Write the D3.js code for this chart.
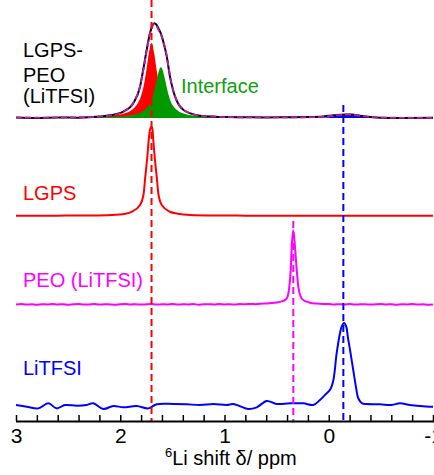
<!DOCTYPE html>
<html>
<head>
<meta charset="utf-8">
<script src="https://cdn.jsdelivr.net/npm/d3@7"></script>
<style>
  html, body { margin: 0; padding: 0; background: #fff; }
  svg { display: block; font-family: "Liberation Sans", Arial, sans-serif; }
</style>
</head>
<body>
<svg id="chart" width="434" height="475"></svg>
<script>
// 6Li MAS NMR spectra, chemical shift (ppm) vs. intensity (a.u.)
// Each series: [shift in ppm, intensity above its own baseline]

// Composite LGPS-PEO(LiTFSI): measured spectrum
const compositeMeasured = [
  [3.0,0.1],[2.8,0.0],[2.6,0.1],[2.4,0.05],[2.2,0.3],[2.1,0.6],[1.97,1.5],[1.875,3.5],
  [1.81,7.4],[1.78,11.4],[1.746,16.2],[1.715,20.1],[1.69,22.0],[1.673,22.5],[1.655,22.2],
  [1.635,21.3],[1.61,20.0],[1.587,18.1],[1.554,14.6],[1.523,9.8],[1.5,7.2],[1.475,5.1],
  [1.44,3.2],[1.395,1.9],[1.32,1.0],[1.235,0.5],[1.1,0.3],[1.0,0.2],[0.8,0.15],[0.6,0.1],
  [0.4,0.15],[0.2,0.2],[0.05,0.35],[-0.05,0.6],[-0.15,0.8],[-0.22,0.8],[-0.3,0.5],
  [-0.4,0.2],[-0.5,0.05],[-0.7,0.0],[-1.0,0.05]
];
// Composite: total of the fitted components
const compositeFit = [
  [3.0,0.05],[2.6,0.08],[2.2,0.3],[2.1,0.55],[1.97,1.5],[1.875,3.6],[1.81,7.5],[1.78,11.2],
  [1.746,16.0],[1.715,20.0],[1.69,21.9],[1.675,22.3],[1.655,22.0],[1.635,21.0],[1.61,19.8],
  [1.587,18.2],[1.554,14.8],[1.523,10.0],[1.5,7.3],[1.475,5.2],[1.44,3.3],[1.395,2.0],
  [1.32,1.0],[1.235,0.5],[1.1,0.3],[1.0,0.2],[0.6,0.1],[0.2,0.15],[0.05,0.3],[-0.05,0.55],
  [-0.15,0.75],[-0.22,0.75],[-0.3,0.5],[-0.4,0.2],[-0.5,0.05],[-1.0,0.0]
];
// Composite: LGPS component
const fitLGPS = [
  [3.0,0.04],[2.8,0.06],[2.6,0.09],[2.4,0.15],[2.2,0.30],[2.1,0.46],[2.0,0.80],[1.95,1.13],
  [1.9,1.70],[1.85,2.81],[1.8,5.28],[1.775,7.64],[1.75,11.2],[1.725,15.5],[1.7,17.8],
  [1.675,15.5],[1.65,11.2],[1.625,7.64],[1.6,5.28],[1.575,3.79],[1.55,2.81],[1.525,2.16],
  [1.5,1.70],[1.45,1.13],[1.4,0.80],[1.35,0.59],[1.3,0.46],[1.2,0.30],[1.1,0.21],[1.0,0.15],
  [0.8,0.09],[0.6,0.06],[0.4,0.04],[0.0,0.02],[-1.0,0.0]
];
// Composite: interface component
const fitInterface = [
  [3.0,0.03],[2.8,0.04],[2.6,0.06],[2.4,0.1],[2.2,0.18],[2.1,0.25],[2.0,0.35],[1.95,0.45],
  [1.9,0.6],[1.85,0.85],[1.8,1.3],[1.775,1.7],[1.75,2.2],[1.725,2.9],[1.7,4.2],[1.675,6.3],
  [1.65,9.0],[1.625,11.5],[1.61,12.0],[1.6,11.8],[1.575,9.6],[1.55,6.8],[1.525,4.5],
  [1.5,3.1],[1.45,1.75],[1.4,1.1],[1.35,0.75],[1.3,0.55],[1.2,0.33],[1.1,0.22],[1.0,0.16],
  [0.8,0.1],[0.6,0.06],[0.4,0.04],[0.0,0.02],[-1.0,0.0]
];
// Composite: LiTFSI component
const fitSalt = [
  [0.1,0],[0.0,0.15],[-0.1,0.55],[-0.2,0.75],[-0.3,0.5],[-0.4,0.15],[-0.5,0]
];

// Pristine LGPS
const specLGPS = [
  [3.0,0.05],[2.6,0.08],[2.3,0.12],[2.08,0.24],[1.95,0.55],[1.89,1.0],[1.81,2.6],
  [1.775,5.4],[1.76,9.3],[1.743,13.3],[1.727,18.0],[1.715,20.4],[1.7,21.2],[1.69,20.4],
  [1.683,18.0],[1.667,13.3],[1.65,9.3],[1.635,5.4],[1.602,2.6],[1.523,1.0],[1.45,0.55],
  [1.33,0.24],[1.1,0.12],[0.8,0.08],[0.4,0.05],[0.0,0.04],[-1.0,0.03]
];

// PEO(LiTFSI) membrane
const specPEO = [
  [3.0,0.0],[2.95,0.08],[2.9,-0.05],[2.85,0.03],[2.8,-0.1],[2.75,0.05],[2.7,0.0],[2.65,0.1],
  [2.6,-0.03],[2.55,0.05],[2.5,-0.08],[2.45,0.03],[2.4,0.08],[2.35,-0.05],[2.3,0.0],[2.25,0.1],
  [2.2,-0.05],[2.15,0.05],[2.1,0.0],[2.05,-0.08],[2.0,0.05],[1.95,0.1],[1.9,-0.03],[1.85,0.05],
  [1.8,-0.05],[1.75,0.03],[1.7,0.08],[1.65,-0.05],[1.6,0.03],[1.55,0.0],[1.5,0.1],[1.45,-0.05],
  [1.4,0.05],[1.35,0.0],[1.3,0.08],[1.25,-0.08],[1.2,0.03],[1.15,0.05],[1.1,-0.03],[1.05,0.08],
  [1.0,0.0],[0.95,0.05],[0.9,-0.05],[0.85,0.08],[0.8,0.03],[0.75,0.1],[0.7,0.05],[0.628,0.2],
  [0.55,0.3],[0.468,0.6],[0.43,0.9],[0.403,1.4],[0.378,4.2],[0.365,8.1],[0.355,13.7],
  [0.34,17.6],[0.324,13.7],[0.307,8.1],[0.292,4.2],[0.26,1.4],[0.22,0.7],[0.18,0.4],
  [0.12,0.2],[0.052,0.1],[0.0,0.08],[-0.05,-0.03],[-0.1,0.05],[-0.15,0.0],[-0.2,0.08],
  [-0.25,-0.05],[-0.3,0.03],[-0.35,0.05],[-0.4,-0.05],[-0.45,0.03],[-0.5,0.08],[-0.55,-0.03],
  [-0.6,0.05],[-0.65,-0.08],[-0.7,0.03],[-0.75,0.0],[-0.8,0.08],[-0.85,-0.05],[-0.9,0.03],
  [-0.95,-0.08],[-1.0,0.0]
];

// LiTFSI salt
const specLiTFSI = [
  [3.0,0.0],[2.897,-0.4],[2.786,-0.8],[2.69,0.4],[2.61,-0.8],[2.53,0.0],[2.418,-0.17],
  [2.322,0.0],[2.259,0.4],[2.163,-0.95],[2.067,-0.24],[1.971,-0.55],[1.842,-0.24],
  [1.731,-0.8],[1.65,0.17],[1.491,0.24],[1.363,0.17],[1.235,0.0],[1.107,0.24],[0.979,0.0],
  [0.916,0.24],[0.772,-0.95],[0.691,-0.55],[0.595,0.95],[0.499,0.24],[0.372,0.4],
  [0.244,0.4],[0.148,0.0],[0.084,1.2],[0.036,2.4],[-0.012,3.6],[-0.044,5.9],[-0.076,12.3],
  [-0.108,17.1],[-0.124,18.6],[-0.146,19.5],[-0.168,18.6],[-0.184,16.0],[-0.204,13.1],
  [-0.235,8.3],[-0.261,4.3],[-0.283,1.6],[-0.32,0.4],[-0.364,0.24],[-0.492,0.17],
  [-0.604,0.0],[-0.683,0.4],[-0.779,0.0],[-0.875,-0.24],[-0.971,-0.4],[-1.0,-0.4]
];

// Reference shifts marked by dashed guides (ppm)
const shiftLGPS = 1.70;
const shiftPEO = 0.34;
const shiftLiTFSI = -0.14;

// Axis ticks
const majorTicks = [3, 2, 1, 0, -1];
const minorTicks = [2.8, 2.6, 2.4, 2.2, 1.8, 1.6, 1.4, 1.2, 0.8, 0.6, 0.4, 0.2, -0.2, -0.4, -0.6, -0.8];

// ---- layout ----
const W = 434, H = 475;
const axisY = 421;
const x = d3.scaleLinear().domain([3, -1]).range([16, 433]);
const y = d3.scaleLinear().domain([0, 100]).range([axisY, 0]);
// vertical stacking (baseline of each trace, in y-domain units)
const base = { composite: 72, lgps: 48.7, peo: 27.7, salt: 3.8 };

const svg = d3.select("#chart");

const lineAt = (off, curve) => d3.line()
  .x(d => x(d[0]))
  .y(d => y(off + d[1]))
  .curve(curve || d3.curveMonotoneX);
const areaAt = off => d3.area()
  .x(d => x(d[0]))
  .y0(y(off))
  .y1(d => y(off + d[1]))
  .curve(d3.curveMonotoneX);

const sorted = arr => arr.slice().sort((a, b) => b[0] - a[0]);

// ---- composite panel ----
svg.append("path").datum(sorted(fitLGPS))
  .attr("d", areaAt(base.composite)).attr("fill", "#ff0000");
svg.append("path").datum(sorted(fitInterface))
  .attr("d", areaAt(base.composite)).attr("fill", "#009a00");
svg.append("path").datum(sorted(fitSalt))
  .attr("d", areaAt(base.composite)).attr("fill", "#0000ff");
svg.append("path").datum(sorted(compositeMeasured))
  .attr("d", lineAt(base.composite))
  .attr("fill", "none").attr("stroke", "#000").attr("stroke-width", 2);
svg.append("path").datum(sorted(compositeFit))
  .attr("d", lineAt(base.composite))
  .attr("fill", "none").attr("stroke", "#c418b4").attr("stroke-width", 1.8)
  .attr("stroke-dasharray", "6,3");

// ---- individual spectra ----
const traces = [
  { data: specLGPS, off: base.lgps, color: "#ff0000" },
  { data: specPEO, off: base.peo, color: "#ff00ff" },
  { data: specLiTFSI, off: base.salt, color: "#0000ff", curve: d3.curveCatmullRom.alpha(0.5) }
];
traces.forEach(t => {
  svg.append("path").datum(sorted(t.data))
    .attr("d", lineAt(t.off, t.curve))
    .attr("fill", "none").attr("stroke", t.color).attr("stroke-width", 2)
    .attr("stroke-linejoin", "round");
});

// ---- dashed guides ----
const guides = [
  { ppm: shiftLGPS, top: 0, color: "#ff0000" },
  { ppm: shiftPEO, top: 221, color: "#ff00ff" },
  { ppm: shiftLiTFSI, top: 105, color: "#0000ff" }
];
guides.forEach(g => {
  svg.append("line")
    .attr("x1", x(g.ppm)).attr("x2", x(g.ppm))
    .attr("y1", g.top).attr("y2", axisY)
    .attr("stroke", g.color).attr("stroke-width", 2)
    .attr("stroke-dasharray", "7,4");
});

// ---- x axis ----
const fmt = d => (d < 0 ? "-" + Math.abs(d) : String(d));
const axisMajor = d3.axisBottom(x).tickValues(majorTicks).tickFormat(fmt)
  .tickSizeInner(-6).tickSizeOuter(0).tickPadding(7);
const axisMinor = d3.axisBottom(x).tickValues(minorTicks).tickFormat("")
  .tickSizeInner(-6).tickSizeOuter(0);

const gMinor = svg.append("g").attr("transform", `translate(0,${axisY})`).call(axisMinor);
gMinor.select(".domain").remove();
gMinor.selectAll("line").attr("stroke", "#000").attr("stroke-width", 1.5);

const gAxis = svg.append("g").attr("transform", `translate(0,${axisY})`).call(axisMajor);
gAxis.select(".domain").attr("d", `M${x(3)},0.5H${W}`).attr("stroke", "#000").attr("stroke-width", 1.8);
gAxis.selectAll("line").attr("stroke", "#000").attr("stroke-width", 1.5);
gAxis.selectAll("text")
  .attr("font-family", "'Liberation Sans', Arial, sans-serif")
  .attr("font-size", 21).attr("fill", "#000");

// axis title
const title = svg.append("text")
  .attr("x", 165).attr("y", 465)
  .attr("font-size", 20).attr("fill", "#000");
title.append("tspan").attr("font-size", 13).attr("dy", -8).text("6");
title.append("tspan").attr("dy", 8).text("Li shift δ/ ppm");

// ---- trace labels ----
const labels = [
  { lines: ["LGPS-", "PEO", "(LiTFSI)"], x: 23, y: [57, 82, 103], color: "#000" },
  { lines: ["Interface"], x: 181, y: [93], color: "#10a010" },
  { lines: ["LGPS"], x: 23, y: [200], color: "#ff0000" },
  { lines: ["PEO (LiTFSI)"], x: 23, y: [287], color: "#ff00ff" },
  { lines: ["LiTFSI"], x: 23, y: [375], color: "#0000ff" }
];
labels.forEach(l => {
  l.lines.forEach((s, i) => {
    svg.append("text").attr("x", l.x).attr("y", l.y[i])
      .attr("font-size", 20).attr("fill", l.color).text(s);
  });
});
</script>
</body>
</html>
